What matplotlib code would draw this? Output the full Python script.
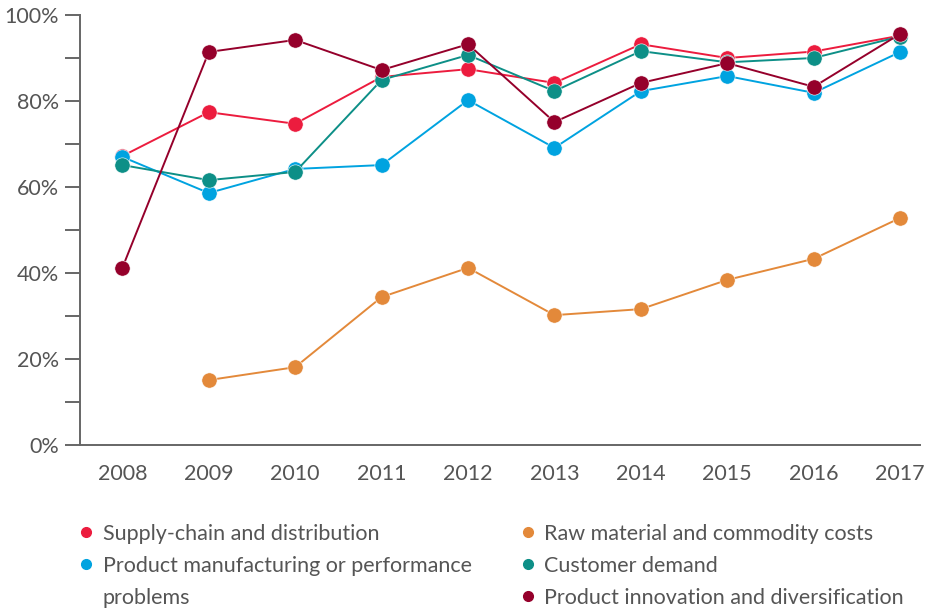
import matplotlib
matplotlib.use("Agg")
import matplotlib.pyplot as plt
from matplotlib.lines import Line2D
from matplotlib.ticker import MultipleLocator, FuncFormatter

years = [2008, 2009, 2010, 2011, 2012, 2013, 2014, 2015, 2016, 2017]

supply_chain = [67.2, 77.4, 74.7, 85.6, 87.4, 84.2, 93.2, 90.0, 91.5, 95.2]
manufacturing = [67.0, 58.6, 64.2, 65.1, 80.2, 69.1, 82.3, 85.8, 81.9, 91.4]
raw_material = [None, 15.1, 18.1, 34.4, 41.2, 30.2, 31.6, 38.4, 43.3, 52.8]
customer_demand = [65.1, 61.6, 63.5, 84.9, 90.7, 82.3, 91.6, 89.0, 90.0, 95.0]
innovation = [41.2, 91.4, 94.2, 87.2, 93.2, 75.1, 84.2, 88.8, 83.3, 95.6]

labels = ["Supply-chain and distribution",
          "Product manufacturing or performance",
          "Raw material and commodity costs",
          "Customer demand",
          "Product innovation and diversification"]
colors = ["#ec1c3e", "#00a3e0", "#e3893a", "#0d8f87", "#95002b"]

plt.rcParams['font.family'] = ['Lato', 'DejaVu Sans']
grey = "#555555"

fig = plt.figure(figsize=(9.34, 6.09), dpi=100)
ax = fig.add_axes([80 / 934, 1 - 445 / 609, 840 / 934, 430 / 609])

series = [raw_material, supply_chain, manufacturing, customer_demand, innovation]
series_colors = [colors[2], colors[0], colors[1], colors[3], colors[4]]
for vals, c in zip(series, series_colors):
    xs = [y for y, v in zip(years, vals) if v is not None]
    ys = [v for v in vals if v is not None]
    ax.plot(xs, ys, color=c, lw=1.4, marker="o", ms=11, mec="white", mew=0.4)

ax.set_ylim(0, 100)
ax.set_xlim(2007.51, 2017.23)
ax.yaxis.set_major_locator(MultipleLocator(20))
ax.yaxis.set_minor_locator(MultipleLocator(10))
ax.yaxis.set_major_formatter(FuncFormatter(lambda v, p: f"{v:.0f}%"))
ax.set_xticks(years)
ax.tick_params(axis="x", length=0, pad=14, labelsize=15.5, labelcolor=grey)
ax.tick_params(axis="y", which="both", length=11, width=1.4, color="#666666",
               labelsize=15.5, labelcolor=grey, pad=4)
for side in ["top", "right"]:
    ax.spines[side].set_visible(False)
for side in ["left", "bottom"]:
    ax.spines[side].set_color("#666666")
    ax.spines[side].set_linewidth(1.4)

def handle(c):
    return Line2D([], [], color=c, marker="o", ls="", ms=7)

blank = Line2D([], [], ls="", marker="")
handles = [handle(colors[0]), handle(colors[1]), blank,
           handle(colors[2]), handle(colors[3]), handle(colors[4])]
leg_labels = [labels[0], labels[1], "problems", labels[2], labels[3], labels[4]]
fig.legend(handles, leg_labels, ncol=2, loc="upper left",
           bbox_to_anchor=(80 / 934, 1 - 524 / 609), frameon=False,
           fontsize=15.5, labelcolor=grey, handlelength=0.6, handletextpad=0.45,
           columnspacing=2.3, labelspacing=0.55, borderaxespad=0, borderpad=0)

fig.savefig("out.png", dpi=100)
